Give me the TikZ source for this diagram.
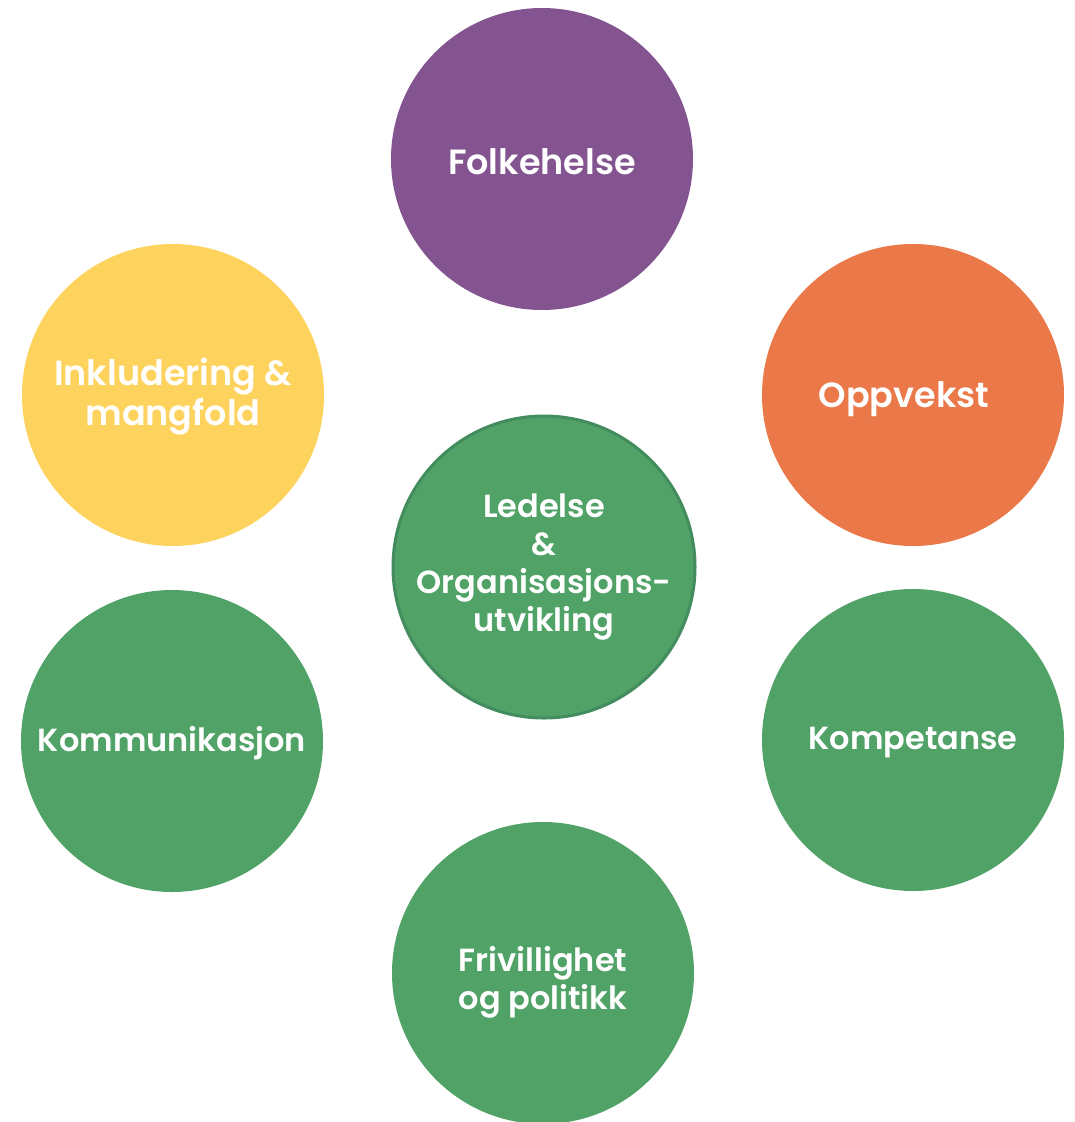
\documentclass[tikz,border=0pt]{standalone}
\usepackage{fontspec}
\setmainfont{Poppins}[BoldFont={Poppins SemiBold}]
\usepackage{tikz}
\usetikzlibrary{positioning}
\definecolor{topicpurple}{RGB}{131,84,143}
\definecolor{topicorange}{RGB}{234,120,72}
\definecolor{topicyellow}{RGB}{253,211,94}
\definecolor{topicgreen}{RGB}{80,162,103}
\definecolor{topicedge}{RGB}{66,140,94}
\tikzset{
  disc/.style     = {circle, minimum size=302pt, inner sep=0pt},
  hub/.style      = {disc, fill=topicgreen, draw=topicedge, line width=3pt},
  topic/.style    = {align=center, text=white, inner sep=0pt,
                     font=\fontsize{32}{38}\selectfont\bfseries},
  bigtopic/.style = {topic, font=\fontsize{35}{40}\selectfont\bfseries},
}
\begin{document}
\begin{tikzpicture}[x=1pt,y=-1pt]
  \useasboundingbox (0,0) rectangle (1074,1122);
  % circles
  \node[disc, fill=topicpurple] (folk) at (542,159) {};
  \node[disc, fill=topicorange] (opp)  at (913,395) {};
  \node[disc, fill=topicyellow] (inkl) at (173,395) {};
  \node[hub] (led) at (544,567) {};
  \node[disc, fill=topicgreen] (komm) at (172,741) {};
  \node[disc, fill=topicgreen] (komp) at (913,740) {};
  \node[disc, fill=topicgreen] (friv) at (543,973) {};
  % labels
  \node[bigtopic] (folk-t) at ([yshift=-3pt]folk.center) {Folkehelse};
  \node[bigtopic] (opp-t)  at ([xshift=-9pt,yshift=-4pt]opp.center) {Oppvekst};
  \node[bigtopic] (inkl-t) at ([yshift=-2pt]inkl.center) {Inkludering \&\\mangfold};
  \node[topic]    (led-t)  at (led.center) {Ledelse\\\&\\Organisasjons-\\utvikling};
  \node[topic]    (komm-t) at ([yshift=-2pt]komm.center) {Kommunikasjon};
  \node[topic]    (komp-t) at ([yshift=-3pt]komp.center) {Kompetanse};
  \node[topic]    (friv-t) at ([yshift=-9pt]friv.center) {Frivillighet\\og politikk};
\end{tikzpicture}
\end{document}
